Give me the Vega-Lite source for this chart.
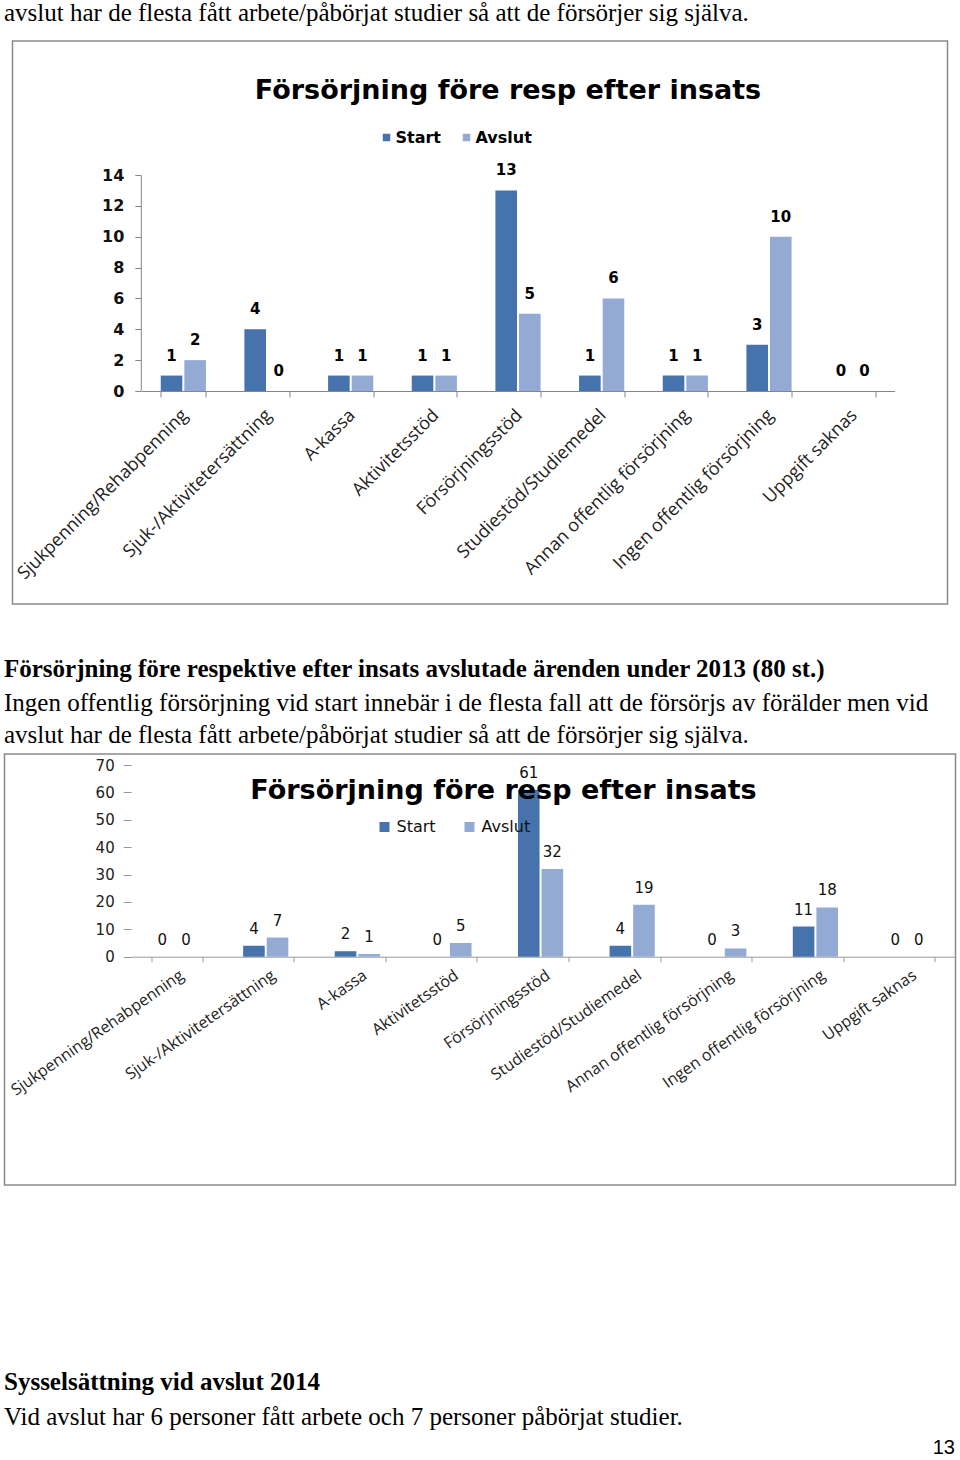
{
  "$schema": "https://vega.github.io/schema/vega-lite/v6.json",
  "background": "white",
  "padding": 0,
  "autosize": {"type": "pad"},
  "config": {
    "view": {"stroke": null},
    "title": {"frame": "group", "baseline": "alphabetic", "color": "#000000"}
  },
  "datasets": {
    "c1": [
      {"kategori": "Sjukpenning/Rehabpenning", "serie": "Start", "antal": 1},
      {"kategori": "Sjukpenning/Rehabpenning", "serie": "Avslut", "antal": 2},
      {"kategori": "Sjuk-/Aktivitetersättning", "serie": "Start", "antal": 4},
      {"kategori": "Sjuk-/Aktivitetersättning", "serie": "Avslut", "antal": 0},
      {"kategori": "A-kassa", "serie": "Start", "antal": 1},
      {"kategori": "A-kassa", "serie": "Avslut", "antal": 1},
      {"kategori": "Aktivitetsstöd", "serie": "Start", "antal": 1},
      {"kategori": "Aktivitetsstöd", "serie": "Avslut", "antal": 1},
      {"kategori": "Försörjningsstöd", "serie": "Start", "antal": 13},
      {"kategori": "Försörjningsstöd", "serie": "Avslut", "antal": 5},
      {"kategori": "Studiestöd/Studiemedel", "serie": "Start", "antal": 1},
      {"kategori": "Studiestöd/Studiemedel", "serie": "Avslut", "antal": 6},
      {"kategori": "Annan offentlig försörjning", "serie": "Start", "antal": 1},
      {"kategori": "Annan offentlig försörjning", "serie": "Avslut", "antal": 1},
      {"kategori": "Ingen offentlig försörjning", "serie": "Start", "antal": 3},
      {"kategori": "Ingen offentlig försörjning", "serie": "Avslut", "antal": 10},
      {"kategori": "Uppgift saknas", "serie": "Start", "antal": 0},
      {"kategori": "Uppgift saknas", "serie": "Avslut", "antal": 0}
    ],
    "c2": [
      {"kategori": "Sjukpenning/Rehabpenning", "serie": "Start", "antal": 0},
      {"kategori": "Sjukpenning/Rehabpenning", "serie": "Avslut", "antal": 0},
      {"kategori": "Sjuk-/Aktivitetersättning", "serie": "Start", "antal": 4},
      {"kategori": "Sjuk-/Aktivitetersättning", "serie": "Avslut", "antal": 7},
      {"kategori": "A-kassa", "serie": "Start", "antal": 2},
      {"kategori": "A-kassa", "serie": "Avslut", "antal": 1},
      {"kategori": "Aktivitetsstöd", "serie": "Start", "antal": 0},
      {"kategori": "Aktivitetsstöd", "serie": "Avslut", "antal": 5},
      {"kategori": "Försörjningsstöd", "serie": "Start", "antal": 61},
      {"kategori": "Försörjningsstöd", "serie": "Avslut", "antal": 32},
      {"kategori": "Studiestöd/Studiemedel", "serie": "Start", "antal": 4},
      {"kategori": "Studiestöd/Studiemedel", "serie": "Avslut", "antal": 19},
      {"kategori": "Annan offentlig försörjning", "serie": "Start", "antal": 0},
      {"kategori": "Annan offentlig försörjning", "serie": "Avslut", "antal": 3},
      {"kategori": "Ingen offentlig försörjning", "serie": "Start", "antal": 11},
      {"kategori": "Ingen offentlig försörjning", "serie": "Avslut", "antal": 18},
      {"kategori": "Uppgift saknas", "serie": "Start", "antal": 0},
      {"kategori": "Uppgift saknas", "serie": "Avslut", "antal": 0}
    ]
  },
  "resolve": {"scale": {"color": "independent"}, "legend": {"color": "independent"}},
  "vconcat": [
    {
      "width": 960, "height": 41,
      "data": {"values": []},
      "mark": {"type": "point", "opacity": 0},
      "title": {"text": "avslut har de flesta fått arbete/påbörjat studier så att de försörjer sig själva.", "font": "Liberation Serif", "fontSize": 25, "fontWeight": "normal", "anchor": "start", "offset": -26, "dx": 4}
    },
    {
      "width": 935, "height": 563,
      "view": {"stroke": "#8a8a8a", "strokeWidth": 1.5},
      "data": {"name": "c1"},
      "title": {"text": "Försörjning före resp efter insats", "font": "DejaVu Sans", "fontSize": 27, "fontWeight": "bold", "anchor": "middle", "offset": -64, "dx": 28},
      "encoding": {
        "x": {"field": "kategori", "type": "nominal", "sort": null,
          "scale": {"range": [129, 882], "paddingInner": 0.46, "paddingOuter": 0.23},
          "axis": {"orient": "bottom", "offset": -213, "title": null, "grid": false, "domainColor": "#868686", "tickColor": "#868686", "tickSize": 6, "tickBand": "extent", "labelAngle": -45, "labelAlign": "right", "labelBaseline": "top", "labelPadding": 9, "labelOffset": -5, "labelFont": "Open Sans", "labelFontSize": 18, "labelColor": "#222222", "labelLimit": 400, "labelOverlap": false}},
        "xOffset": {"field": "serie", "type": "nominal", "sort": ["Start", "Avslut"], "scale": {"paddingInner": 0.085, "paddingOuter": 0}},
        "y": {"field": "antal", "type": "quantitative",
          "scale": {"domain": [0, 14], "range": [350, 134], "nice": false, "zero": true},
          "axis": {"orient": "left", "offset": -128.3, "title": null, "grid": false, "values": [0, 2, 4, 6, 8, 10, 12, 14], "domainColor": "#868686", "tickColor": "#868686", "tickSize": 6, "labelFont": "DejaVu Sans", "labelFontWeight": "bold", "labelFontSize": 16, "labelColor": "#111111", "labelPadding": 11}}
      },
      "layer": [
        {
          "mark": {"type": "bar"},
          "encoding": {
            "color": {"field": "serie", "type": "nominal",
              "scale": {"domain": ["Start", "Avslut"], "range": ["#4672ad", "#93aad4"]},
              "legend": {"orient": "none", "legendX": 366, "legendY": 88.5, "direction": "horizontal", "title": null, "padding": 0, "symbolType": "square", "symbolSize": 56, "symbolStrokeWidth": 0, "labelFont": "DejaVu Sans", "labelFontWeight": "bold", "labelFontSize": 16, "labelColor": "#000000", "labelOffset": 1, "columnPadding": 17}}
          }
        },
        {
          "mark": {"type": "text", "font": "DejaVu Sans", "fontWeight": "bold", "fontSize": 15, "color": "#000000", "baseline": "alphabetic", "dy": -15},
          "encoding": {"text": {"field": "antal", "type": "quantitative"}}
        }
      ]
    },
    {
      "width": 960, "height": 81,
      "data": {"values": []},
      "mark": {"type": "point", "opacity": 0},
      "title": {"text": "Försörjning före respektive efter insats avslutade ärenden  under 2013 (80 st.)", "font": "Liberation Serif", "fontSize": 25, "fontWeight": "bold", "anchor": "start", "offset": -78, "dx": 4}
    },
    {
      "width": 960, "height": 32,
      "data": {"values": []},
      "mark": {"type": "point", "opacity": 0},
      "title": {"text": "Ingen offentlig försörjning vid start innebär i de flesta fall att de försörjs av förälder men vid", "font": "Liberation Serif", "fontSize": 25, "fontWeight": "normal", "anchor": "start", "offset": -31, "dx": 4}
    },
    {
      "width": 960, "height": 37,
      "data": {"values": []},
      "mark": {"type": "point", "opacity": 0},
      "title": {"text": "avslut har de flesta fått arbete/påbörjat studier så att de försörjer sig själva.", "font": "Liberation Serif", "fontSize": 25, "fontWeight": "normal", "anchor": "start", "offset": -31, "dx": 4}
    },
    {
      "width": 951, "height": 431,
      "view": {"stroke": "#8a8a8a", "strokeWidth": 1.5},
      "data": {"name": "c2"},
      "title": {"text": "Försörjning före resp efter insats", "font": "DejaVu Sans", "fontSize": 27, "fontWeight": "bold", "anchor": "middle", "offset": -51, "dx": 23.5},
      "encoding": {
        "x": {"field": "kategori", "type": "nominal", "sort": null,
          "scale": {"range": [126.5, 951], "paddingInner": 0.448, "paddingOuter": 0.224},
          "axis": {"orient": "bottom", "offset": -228.3, "title": null, "grid": false, "domainColor": "#999999", "tickColor": "#999999", "tickSize": 5, "tickBand": "extent", "labelAngle": -35, "labelAlign": "right", "labelBaseline": "top", "labelPadding": 5, "labelFont": "Open Sans", "labelFontSize": 16, "labelColor": "#222222", "labelLimit": 400, "labelOverlap": false}},
        "xOffset": {"field": "serie", "type": "nominal", "sort": ["Start", "Avslut"], "scale": {"paddingInner": 0.076, "paddingOuter": 0}},
        "y": {"field": "antal", "type": "quantitative",
          "scale": {"domain": [0, 70], "range": [202.7, 11], "nice": false, "zero": true},
          "axis": {"orient": "left", "offset": -126.7, "title": null, "grid": false, "domain": false, "values": [0, 10, 20, 30, 40, 50, 60, 70], "tickColor": "#999999", "tickSize": 8, "labelFont": "DejaVu Sans", "labelFontSize": 15, "labelColor": "#222222", "labelPadding": 9}}
      },
      "layer": [
        {
          "mark": {"type": "bar"},
          "encoding": {
            "color": {"field": "serie", "type": "nominal",
              "scale": {"domain": ["Start", "Avslut"], "range": ["#4672ad", "#93aad4"]},
              "legend": {"orient": "none", "legendX": 372, "legendY": 65, "direction": "horizontal", "title": null, "padding": 0, "symbolType": "square", "symbolSize": 100, "symbolStrokeWidth": 0, "labelFont": "DejaVu Sans", "labelFontSize": 16, "labelColor": "#111111", "labelOffset": 4, "columnPadding": 25}}
          }
        },
        {
          "mark": {"type": "text", "font": "DejaVu Sans", "fontSize": 15, "color": "#111111", "baseline": "alphabetic", "dy": -12},
          "encoding": {"text": {"field": "antal", "type": "quantitative"}}
        }
      ]
    },
    {
      "width": 960, "height": 215,
      "data": {"values": []},
      "mark": {"type": "point", "opacity": 0},
      "title": {"text": "Sysselsättning vid avslut 2014", "font": "Liberation Serif", "fontSize": 25, "fontWeight": "bold", "anchor": "start", "offset": -210, "dx": 4}
    },
    {
      "width": 960, "height": 30,
      "data": {"values": []},
      "mark": {"type": "point", "opacity": 0},
      "title": {"text": "Vid avslut har 6 personer fått arbete och 7 personer påbörjat studier.", "font": "Liberation Serif", "fontSize": 25, "fontWeight": "normal", "anchor": "start", "offset": -30, "dx": 4}
    },
    {
      "width": 960, "height": 30,
      "data": {"values": []},
      "mark": {"type": "point", "opacity": 0},
      "title": {"text": "13", "font": "Liberation Sans", "fontSize": 20, "fontWeight": "normal", "anchor": "end", "offset": -28, "dx": -5}
    }
  ],
  "spacing": 0,
  "bounds": "flush",
  "center": true
}
